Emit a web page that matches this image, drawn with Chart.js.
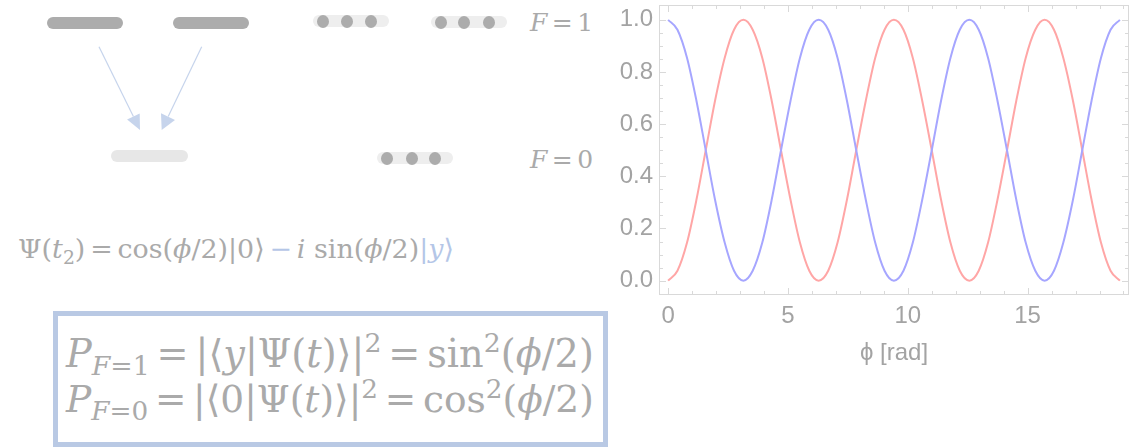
<!DOCTYPE html>
<html lang="en">
<head>
<meta charset="UTF-8">
<title>Ramsey phase scan</title>
<style>
  html, body { margin: 0; background: #fff; }
  #page { position: relative; width: 1132px; height: 448px; overflow: hidden; }
  .bar { position: absolute; height: 12px; border-radius: 6px; }
  .dark { background: #acacac; }
  .pale { background: #e7e7e7; }
  .track { background: #eeeeee; }
  .dot { position: absolute; width: 12px; height: 13px; border-radius: 50%; background: #acacac; }
  .math { position: absolute; font-family: "DejaVu Serif", serif; color: #aaaaaa;
          white-space: nowrap; line-height: 1; }
  .math i { font-style: italic; }
  .math .rel { margin: 0 0.18em; }
  .math sub, .math sup { font-size: 0.7em; line-height: 0; }
  .math sub { vertical-align: -0.3em; }
  .math sup { vertical-align: 0.55em; }
  .blue { color: #b4c6e7; }
  #box { position: absolute; left: 53px; top: 311px; width: 545px; height: 126px;
         border: 5px solid #b9c9e4; }
  #rabi { position: absolute; left: 600px; top: 0; }
</style>
</head>
<body>
<div id="page">
  <!-- level scheme -->
  <div class="bar dark" style="left:47px;top:17px;width:76px"></div>
  <div class="bar dark" style="left:173px;top:17px;width:76px"></div>
  <div class="bar pale" style="left:111px;top:150px;width:77px"></div>

  <div class="bar track" style="left:313px;top:15px;width:76px"></div>
  <div class="dot" style="left:317px;top:15px"></div>
  <div class="dot" style="left:341px;top:15px"></div>
  <div class="dot" style="left:365px;top:15px"></div>

  <div class="bar track" style="left:431px;top:16px;width:76px"></div>
  <div class="dot" style="left:435px;top:16px"></div>
  <div class="dot" style="left:458px;top:16px"></div>
  <div class="dot" style="left:483px;top:16px"></div>

  <div class="bar track" style="left:377px;top:152px;width:76px"></div>
  <div class="dot" style="left:381px;top:152px"></div>
  <div class="dot" style="left:406px;top:152px"></div>
  <div class="dot" style="left:429px;top:152px"></div>

  <svg width="300" height="160" style="position:absolute;left:0;top:0">
    <g stroke="#c6d4ec" stroke-width="1.2" fill="none">
      <line x1="99" y1="46.7" x2="133.4" y2="116.5"/>
      <line x1="201.7" y1="46.7" x2="168.2" y2="116.5"/>
    </g>
    <g fill="#c6d4ec">
      <polygon points="140,130 139.7,113.4 127.1,119.6"/>
      <polygon points="161.7,130 161,113.3 175,120"/>
    </g>
  </svg>

  <div class="math" style="left:530px;top:10px;font-size:25px"><i>F</i><span class="rel">=</span>1</div>
  <div class="math" style="left:530px;top:147px;font-size:25px"><i>F</i><span class="rel">=</span>0</div>

  <div class="math fit" data-w="436" style="left:18px;top:236px;font-size:24px">Ψ(<i>t</i><sub>2</sub>)<span class="rel">=</span>cos(<i>ϕ</i>/2)|0⟩<span class="rel blue">−</span><i>i</i> sin(<i>ϕ</i>/2)<span class="blue">|<i>y</i>⟩</span></div>

  <div id="box"></div>
  <div class="math fit" data-w="528" style="left:66px;top:335px;font-size:34px"><i>P</i><sub><i>F</i>=1</sub><span class="rel">=</span>|⟨<i>y</i>|Ψ(<i>t</i>)⟩|<sup>2</sup><span class="rel">=</span>sin<sup>2</sup>(<i>ϕ</i>/2)</div>
  <div class="math fit" data-w="528" style="left:66px;top:381px;font-size:34px"><i>P</i><sub><i>F</i>=0</sub><span class="rel">=</span>|⟨0|Ψ(<i>t</i>)⟩|<sup>2</sup><span class="rel">=</span>cos<sup>2</sup>(<i>ϕ</i>/2)</div>

  <canvas id="rabi" width="532" height="448"></canvas>
</div>

<script src="https://cdn.jsdelivr.net/npm/chart.js@4.4.0/dist/chart.umd.min.js"></script>
<script>
// phase phi in rad, sampled every pi/8 up to 6 pi
const phi = [0.00, 0.39, 0.79, 1.18, 1.57, 1.96, 2.36, 2.75, 3.14, 3.53, 3.93, 4.32, 4.71,
             5.11, 5.50, 5.89, 6.28, 6.68, 7.07, 7.46, 7.85, 8.25, 8.64, 9.03, 9.42,
             9.82, 10.21, 10.60, 11.00, 11.39, 11.78, 12.17, 12.57, 12.96, 13.35, 13.74, 14.14,
             14.53, 14.92, 15.32, 15.71, 16.10, 16.49, 16.89, 17.28, 17.67, 18.06, 18.46, 18.85];
// population left in F=0 (blue)
const pF0 = [1.000, 0.962, 0.854, 0.691, 0.500, 0.309, 0.146, 0.038, 0.000, 0.038, 0.146, 0.309, 0.500,
             0.691, 0.854, 0.962, 1.000, 0.962, 0.854, 0.691, 0.500, 0.309, 0.146, 0.038, 0.000,
             0.038, 0.146, 0.309, 0.500, 0.691, 0.854, 0.962, 1.000, 0.962, 0.854, 0.691, 0.500,
             0.309, 0.146, 0.038, 0.000, 0.038, 0.146, 0.309, 0.500, 0.691, 0.854, 0.962, 1.000];
// population transferred to F=1 (red)
const pF1 = [0.000, 0.038, 0.146, 0.309, 0.500, 0.691, 0.854, 0.962, 1.000, 0.962, 0.854, 0.691, 0.500,
             0.309, 0.146, 0.038, 0.000, 0.038, 0.146, 0.309, 0.500, 0.691, 0.854, 0.962, 1.000,
             0.962, 0.854, 0.691, 0.500, 0.309, 0.146, 0.038, 0.000, 0.038, 0.146, 0.309, 0.500,
             0.691, 0.854, 0.962, 1.000, 0.962, 0.854, 0.691, 0.500, 0.309, 0.146, 0.038, 0.000];
const xTicks = [0, 5, 10, 15];
const yTicks = [0.0, 0.2, 0.4, 0.6, 0.8, 1.0];

// stretch the formulas to their set widths
document.querySelectorAll('.fit').forEach(el => {
  const fs = parseFloat(el.style.fontSize);
  el.style.fontSize = (fs * (+el.dataset.w) / el.getBoundingClientRect().width) + 'px';
});

const grey = '#a3a3a3';

// frame with inward ticks on all four sides
const frameTicks = {
  id: 'frameTicks',
  beforeDatasetsDraw(chart) {
    const {ctx, chartArea: a, scales: {x, y}} = chart;
    ctx.save();
    ctx.strokeStyle = '#d9d9d9';
    ctx.lineWidth = 1;
    ctx.strokeRect(a.left + 0.5, a.top + 0.5, a.width - 1, a.height - 1);
    ctx.beginPath();
    for (let i = 0; i <= 19; i++) {
      const px = Math.round(x.getPixelForValue(i)) + 0.5;
      const len = i % 5 === 0 ? 7 : 4;
      ctx.moveTo(px, a.bottom); ctx.lineTo(px, a.bottom - len);
      ctx.moveTo(px, a.top); ctx.lineTo(px, a.top + len);
    }
    for (let i = 0; i <= 20; i++) {
      const py = Math.round(y.getPixelForValue(i * 0.05)) + 0.5;
      const len = i % 4 === 0 ? 7 : 4;
      ctx.moveTo(a.left, py); ctx.lineTo(a.left + len, py);
      ctx.moveTo(a.right, py); ctx.lineTo(a.right - len, py);
    }
    ctx.stroke();
    ctx.restore();
  }
};

const curve = (ys, color) => ({
  data: phi.map((p, i) => ({x: p, y: ys[i]})),
  borderColor: color,
  borderWidth: 2,
  pointRadius: 0,
  fill: false,
  cubicInterpolationMode: 'monotone'
});

new Chart(document.getElementById('rabi'), {
  type: 'line',
  data: {
    datasets: [
      curve(pF0, 'rgb(166,166,255)'),
      curve(pF1, 'rgb(255,166,166)')
    ]
  },
  options: {
    responsive: false,
    animation: false,
    devicePixelRatio: 1,
    layout: {padding: {left: 0, right: 3, top: 5, bottom: 78}},
    plugins: {legend: {display: false}, tooltip: {enabled: false}},
    scales: {
      x: {
        type: 'linear',
        min: -0.38,
        max: 19.23,
        grid: {display: false, drawTicks: false},
        border: {display: false},
        afterBuildTicks: s => { s.ticks = xTicks.map(v => ({value: v})); },
        afterFit: s => { s.height = 75; s.paddingLeft = 0; s.paddingRight = 0; },
        ticks: {
          color: grey,
          padding: 7,
          maxRotation: 0,
          font: {family: 'Liberation Sans', size: 24},
          callback: v => String(v)
        },
        title: {
          display: true,
          text: 'ϕ [rad]',
          color: grey,
          padding: {top: 0, bottom: 2},
          font: {family: 'Liberation Sans', size: 24}
        }
      },
      y: {
        min: -0.055,
        max: 1.057,
        grid: {display: false, drawTicks: false},
        border: {display: false},
        afterBuildTicks: s => { s.ticks = yTicks.map(v => ({value: v})); },
        afterFit: s => { s.width = 59; s.paddingTop = 0; s.paddingBottom = 0; },
        ticks: {
          color: grey,
          padding: 6,
          font: {family: 'Liberation Sans', size: 24},
          callback: v => v.toFixed(1)
        }
      }
    }
  },
  plugins: [frameTicks]
});
</script>
</body>
</html>
